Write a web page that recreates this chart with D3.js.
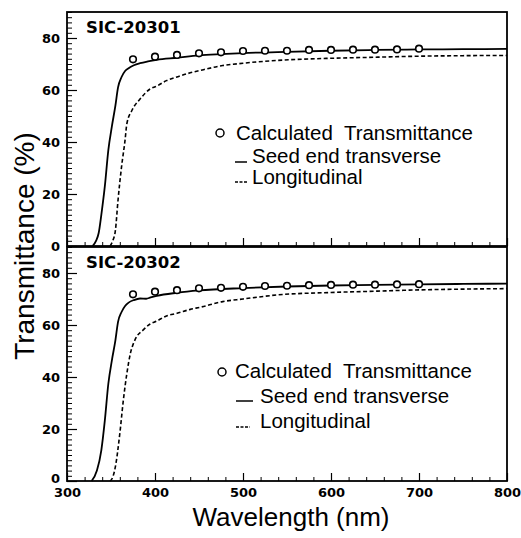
<!DOCTYPE html>
<html>
<head>
<meta charset="utf-8">
<script src="https://cdn.jsdelivr.net/npm/d3@7"></script>
<style>
  body { margin: 0; background: #fff; }
  svg text { fill: #000; }
</style>
</head>
<body>
<div id="main"></div>
<script>
const ctx = {
    WIDTH: 521,
    HEIGHT: 538,
};

// x range and y range of each panel
const xDomain = [300, 800];
const yDomain = [0, 90];

// SIC-20301
const topSolidWl = [329, 333, 336, 339, 343, 347, 351, 355, 358, 362, 366, 370, 376, 383, 392, 402, 425, 450, 475, 500, 550, 600, 650, 700, 750, 800];
const topSolidT  = [0, 2, 5, 12, 23, 37, 46, 54, 61, 65, 67.3, 68.4, 69.5, 70.3, 71, 71.6, 72.4, 73.3, 73.8, 74.2, 74.7, 75.1, 75.4, 75.6, 75.7, 75.8];
const topDashWl  = [349, 352, 355, 358, 362, 366, 368, 374, 383, 394, 402, 413, 425, 440, 451, 477, 500, 540, 600, 650, 700, 750, 800];
const topDashT   = [0, 2, 6, 17.7, 30.5, 40.8, 47, 52.3, 56.5, 60.3, 61.5, 63.6, 65, 66.6, 67.5, 69.4, 70.3, 71.4, 72.2, 72.6, 73, 73.2, 73.3];
const topCalcT   = [71.8, 72.8, 73.5, 74.1, 74.5, 75.0, 75.1, 75.1, 75.4, 75.4, 75.5, 75.5, 75.6, 75.9];

// SIC-20302
const botSolidWl = [328, 334, 339, 343, 347, 351, 355, 358, 362, 366, 370, 376, 383, 390, 395, 402, 425, 450, 500, 550, 600, 650, 700, 750, 800];
const botSolidT  = [0, 4, 11.8, 23.3, 37.5, 46.4, 54.1, 61.2, 65, 67.3, 68.6, 69.6, 70.2, 70.1, 70.6, 71.2, 72.4, 73.3, 74.2, 74.8, 75.2, 75.4, 75.6, 75.8, 75.9];
const botDashWl  = [349, 352, 355, 360, 364, 368, 372, 377, 387, 394, 402, 413, 425, 440, 451, 477, 500, 540, 600, 650, 700, 750, 800];
const botDashT   = [0, 1.5, 5.5, 18.2, 31, 41.3, 49, 54.1, 58.2, 60.3, 61.5, 63.5, 64.5, 66, 66.8, 69, 70, 71.6, 72.5, 73, 73.5, 73.8, 74];
const botCalcT   = [71.8, 72.8, 73.4, 74.1, 74.3, 74.7, 75.0, 75.1, 75.3, 75.4, 75.5, 75.5, 75.6, 75.7];

// calculated points wavelengths (both panels)
const calcWl = [375, 400, 425, 450, 475, 500, 525, 550, 575, 600, 625, 650, 675, 700];

const panelLabels = ["SIC-20301", "SIC-20302"];
const legendLabels = ["Calculated  Transmittance", "Seed end transverse", "Longitudinal"];

const zip = (xs, ys) => xs.map((x, i) => ({ x: x, y: ys[i] }));

function drawPanel(svgEl, p) {
    const x = ctx.x;
    const y = d3.scaleLinear().domain(yDomain).range([p.bottom, p.bottom - 234]);
    const g = svgEl.append("g");

    // minor / major y ticks (inside)
    g.append("g")
        .attr("transform", `translate(${x.range()[0]},0)`)
        .call(d3.axisLeft(y).ticks(45).tickSize(-5).tickFormat(""))
        .call(a => a.select(".domain").remove())
        .selectAll("line").attr("stroke-width", 1);
    g.append("g")
        .attr("transform", `translate(${x.range()[0]},0)`)
        .call(d3.axisLeft(y).ticks(5).tickSize(-10).tickPadding(7))
        .call(a => a.select(".domain").remove())
        .call(a => a.selectAll("text")
            .attr("font-family", "DejaVu Sans, sans-serif")
            .attr("font-weight", "bold")
            .attr("font-size", 13)
            .attr("dy", d => (d === 0 && p.showX) ? "0.15em" : "0.32em"))
        .selectAll("line").attr("stroke-width", 1.2);

    // x ticks (inside, pointing up)
    g.append("g")
        .attr("transform", `translate(0,${p.bottom})`)
        .call(d3.axisBottom(x).ticks(25).tickSize(-4).tickFormat(""))
        .call(a => a.select(".domain").remove());
    const xa = g.append("g")
        .attr("transform", `translate(0,${p.bottom})`)
        .call(d3.axisBottom(x).ticks(5).tickSize(-8).tickPadding(7))
        .call(a => a.select(".domain").remove());
    xa.selectAll("line").attr("stroke-width", 1.2);
    if (p.showX) {
        xa.selectAll("text")
            .attr("font-family", "DejaVu Sans, sans-serif")
            .attr("font-weight", "bold")
            .attr("font-size", 13);
    } else {
        xa.selectAll("text").remove();
    }

    // frame
    g.append("rect")
        .attr("x", x.range()[0]).attr("y", p.bottom - 234)
        .attr("width", x.range()[1] - x.range()[0]).attr("height", 234)
        .attr("fill", "none").attr("stroke", "#000").attr("stroke-width", 1.8);

    const line = d3.line()
        .curve(d3.curveMonotoneX)
        .x(d => x(d.x))
        .y(d => y(d.y));

    g.append("path")
        .datum(p.dashed)
        .attr("d", line)
        .attr("fill", "none").attr("stroke", "#000")
        .attr("stroke-width", 1.6)
        .attr("stroke-dasharray", "4,2.5");

    g.append("path")
        .datum(p.solid)
        .attr("d", line)
        .attr("fill", "none").attr("stroke", "#000")
        .attr("stroke-width", 1.8);

    g.selectAll("circle.calc")
        .data(p.calc)
        .enter()
        .append("circle")
        .attr("class", "calc")
        .attr("cx", d => x(d.x))
        .attr("cy", d => y(d.y))
        .attr("r", 3.3)
        .attr("fill", "#fff").attr("stroke", "#000").attr("stroke-width", 1.6);

    // panel label
    g.append("text")
        .attr("x", 86).attr("y", p.labelY)
        .attr("font-family", "DejaVu Sans, sans-serif")
        .attr("font-weight", "bold")
        .attr("font-size", 16.5)
        .text(p.label);

    // legend
    const L = p.legend;
    const lg = g.append("g")
        .attr("font-family", "Liberation Sans, Arial, sans-serif")
        .attr("font-size", 20.5);
    lg.append("circle")
        .attr("cx", L.cx).attr("cy", L.cy).attr("r", 4)
        .attr("fill", "#fff").attr("stroke", "#000").attr("stroke-width", 1.5);
    lg.append("text").attr("x", L.tx0).attr("y", L.b[0])
        .attr("xml:space", "preserve").style("white-space", "pre")
        .text(legendLabels[0]);
    lg.append("line")
        .attr("x1", L.l1[0]).attr("x2", L.l1[1])
        .attr("y1", L.l1[2]).attr("y2", L.l1[2])
        .attr("stroke", "#000").attr("stroke-width", 1.5);
    lg.append("text").attr("x", L.tx1).attr("y", L.b[1]).text(legendLabels[1]);
    lg.append("line")
        .attr("x1", L.l2[0]).attr("x2", L.l2[1])
        .attr("y1", L.l2[2]).attr("y2", L.l2[2])
        .attr("stroke", "#000").attr("stroke-width", 1.4)
        .attr("stroke-dasharray", "3,1.5");
    lg.append("text").attr("x", L.tx1).attr("y", L.b[2]).text(legendLabels[2]);
}

function createViz() {
    let svgEl = d3.select("#main").append("svg")
        .attr("width", ctx.WIDTH)
        .attr("height", ctx.HEIGHT);

    ctx.x = d3.scaleLinear().domain(xDomain).range([67, 507]);

    const panels = [
        {
            label: panelLabels[0], bottom: 246, labelY: 33, showX: false,
            solid: zip(topSolidWl, topSolidT),
            dashed: zip(topDashWl, topDashT),
            calc: zip(calcWl, topCalcT),
            legend: { cx: 220, cy: 133, tx0: 236, tx1: 252, b: [140, 163, 184],
                      l1: [235, 247, 162], l2: [235, 247, 182] }
        },
        {
            label: panelLabels[1], bottom: 481, labelY: 268, showX: true,
            solid: zip(botSolidWl, botSolidT),
            dashed: zip(botDashWl, botDashT),
            calc: zip(calcWl, botCalcT),
            legend: { cx: 222, cy: 372, tx0: 235, tx1: 260, b: [378, 403, 428],
                      l1: [236, 253, 401], l2: [236, 250, 427] }
        }
    ];
    panels.forEach(p => drawPanel(svgEl, p));

    // axis titles
    svgEl.append("text")
        .attr("transform", "translate(34,246) rotate(-90)")
        .attr("text-anchor", "middle")
        .attr("font-family", "Liberation Sans, Arial, sans-serif")
        .attr("font-size", 28)
        .text("Transmittance (%)");
    svgEl.append("text")
        .attr("x", 291).attr("y", 526)
        .attr("text-anchor", "middle")
        .attr("font-family", "Liberation Sans, Arial, sans-serif")
        .attr("font-size", 26)
        .text("Wavelength (nm)");
}

createViz();
</script>
</body>
</html>
